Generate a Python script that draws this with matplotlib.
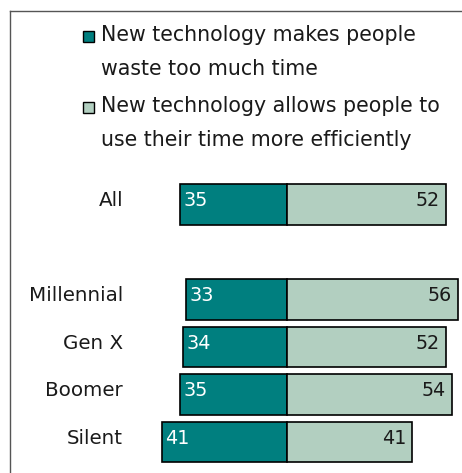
import matplotlib
matplotlib.use("Agg")
import matplotlib.pyplot as plt
from matplotlib.patches import Rectangle
from matplotlib.lines import Line2D

# Daten aus dem Bild
groups = ["All", "Millennial", "Gen X", "Boomer", "Silent"]
y_pos = [0, 2, 3, 4, 5]
waste = [35, 33, 34, 35, 41]
efficient = [52, 56, 52, 54, 41]
legend_labels = ["New technology makes people\nwaste too much time",
                 "New technology allows people to\nuse their time more efficiently"]

dark = "#007f7f"
light = "#b2cfc0"

W, H = 462, 473
fig = plt.figure(figsize=(W / 100, H / 100), dpi=100)
ax = fig.add_axes([0, 0, 1, 1])

px_per_unit = 3.05
x0 = 287
ax.set_xlim(-x0 / px_per_unit, (W - x0) / px_per_unit)
row_px = 47.5
y0 = 204.5
ax.set_ylim((H - y0) / row_px, -y0 / row_px)
ax.axis("off")

fs = 14.3
bh = 0.86
for g, y, a, b in zip(groups, y_pos, waste, efficient):
    ax.barh(y, -a, height=bh, color=dark, edgecolor="black", linewidth=1.2)
    ax.barh(y, b, height=bh, color=light, edgecolor="black", linewidth=1.2)
    ax.text(-a + 1.0, y - 0.08, str(a), color="white", fontsize=fs - 0.5,
            ha="left", va="center")
    ax.text(b - 2.0, y - 0.08, str(b), color="#1a1a1a", fontsize=fs - 0.5,
            ha="right", va="center")
    ax.text(-(x0 - 123) / px_per_unit, y - 0.08, g, color="#1a1a1a",
            fontsize=fs, ha="right", va="center")

# Rahmen oben und links
fig.add_artist(Line2D([10 / W, 1], [1 - 11 / H, 1 - 11 / H], color="#555555", lw=1.0))
fig.add_artist(Line2D([10 / W, 10 / W], [0, 1 - 11 / H], color="#555555", lw=1.0))

# Legende von Hand
legend_y = [36, 107]
for lab, ly, c in zip(legend_labels, legend_y, [dark, light]):
    fig.add_artist(Rectangle((83 / W, 1 - (ly + 6) / H), 11 / W, 11 / H,
                             facecolor=c, edgecolor="black", lw=1.0))
    fig.text(101 / W, 1 - (ly - 11) / H, lab, fontsize=14.8, color="#1a1a1a",
             ha="left", va="top", linespacing=1.85)

fig.savefig("out.png", dpi=100)
